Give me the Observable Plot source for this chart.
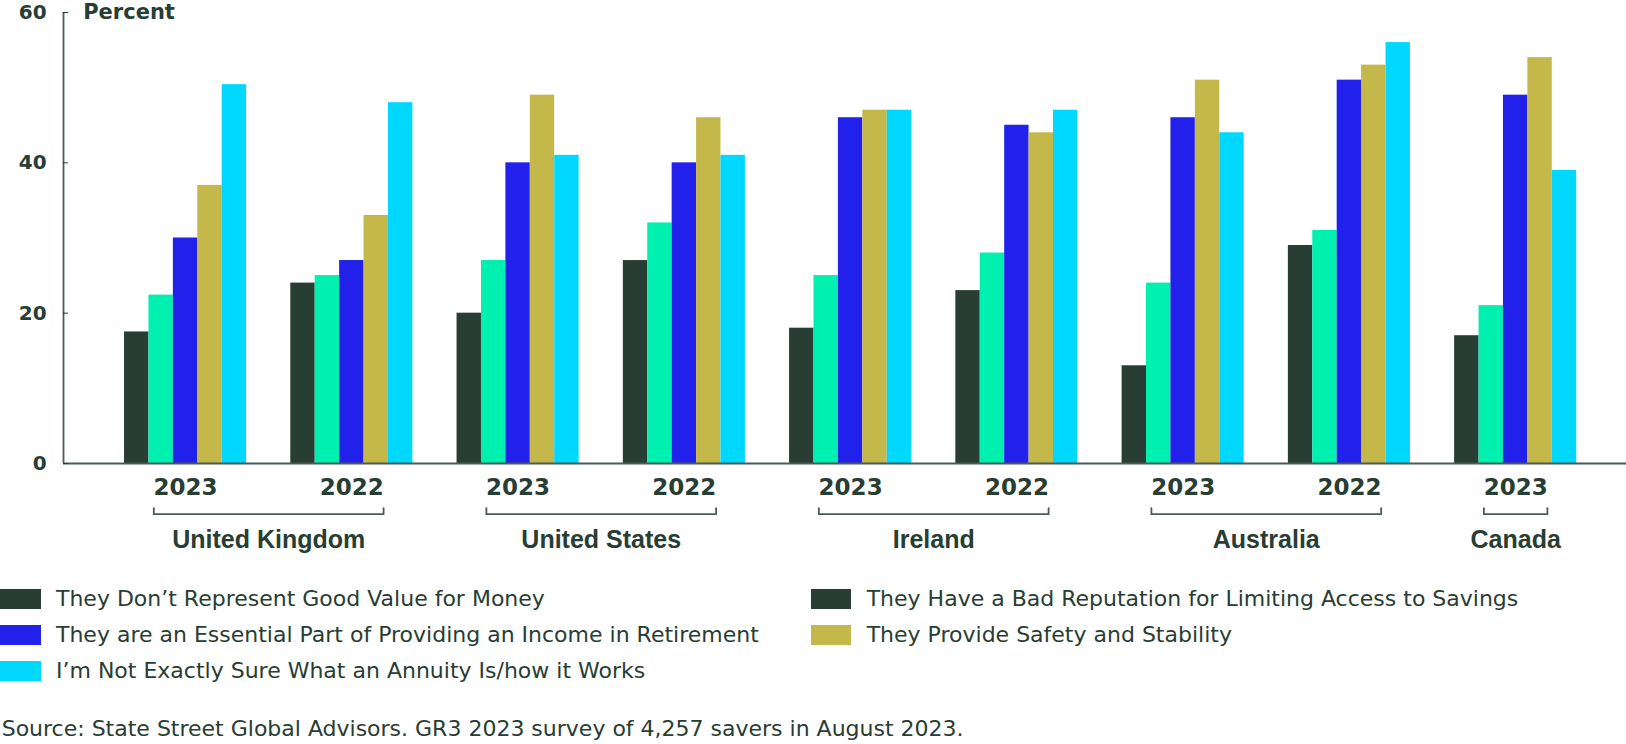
<!DOCTYPE html>
<html>
<head>
<meta charset="utf-8">
<script src="https://cdn.jsdelivr.net/npm/d3@7"></script>
<script src="https://cdn.jsdelivr.net/npm/@observablehq/plot@0.6"></script>
<style>
  body { margin: 0; background: #fff; font-family: "DejaVu Sans", sans-serif; color: #283d33; }
  #chart svg { display: block; overflow: visible; }
  .legend { display: grid; grid-template-columns: 810.7px auto; grid-auto-rows: 36px; margin-top: 20.8px; font-size: 22px; }
  .item { display: flex; align-items: center; white-space: nowrap; }
  .sw { width: 40.7px; height: 19.7px; margin-right: 15.3px; flex: none; }
  .source { font-size: 22px; margin-top: 27.5px; padding-left: 1.7px; white-space: nowrap; }
</style>
</head>
<body>
<div id="chart"></div>
<div class="legend" id="legend"></div>
<div class="source" id="source"></div>
<script>
// ---- data ----
const countries = ["United Kingdom", "United Kingdom", "United States", "United States", "Ireland", "Ireland", "Australia", "Australia", "Canada"];
const years = ["2023", "2022", "2023", "2022", "2023", "2022", "2023", "2022", "2023"];
const seriesNames = [
  "They Don\u2019t Represent Good Value for Money",
  "They Have a Bad Reputation for Limiting Access to Savings",
  "They are an Essential Part of Providing an Income in Retirement",
  "They Provide Safety and Stability",
  "I\u2019m Not Exactly Sure What an Annuity Is/how it Works"
];
const goodValue     = [17.5, 24, 20, 27, 18, 23, 13, 29, 17];
const badReputation = [22.4, 25, 27, 32, 25, 28, 24, 31, 21];
const essential     = [30, 27, 40, 40, 46, 45, 46, 51, 49];
const safety        = [37, 33, 49, 46, 47, 44, 51, 53, 54];
const notSure       = [50.4, 48, 41, 41, 47, 47, 44, 56, 39];
const seriesColors   = ["#283d33", "#00f0b0", "#2121eb", "#c4b84a", "#00d8ff"];
const legendSwatches = ["#283d33", "#283d33", "#2121eb", "#c4b84a", "#00d8ff"];
const yTicks = [0, 20, 40, 60];
const yLabel = "Percent";
const sourceNote = "Source: State Street Global Advisors. GR3 2023 survey of 4,257 savers in August 2023.";

// ---- layout in slot units (one slot = one bar) ----
const seriesValues = [goodValue, badReputation, essential, safety, notSure];
const barsPerGroup = seriesNames.length;
const groupGap = 1.81;
const groupStep = barsPerGroup + groupGap;
const xDomain = [-2.5, 61.52];
const bracketHalf = 1.3;

const rows = [];
years.forEach((yr, g) => {
  seriesNames.forEach((name, s) => {
    rows.push({group: g, slot: g * groupStep + s, series: name, value: seriesValues[s][g]});
  });
});
const groupData = years.map((yr, g) => ({year: yr, center: g * groupStep + barsPerGroup / 2}));
const countryData = [];
countries.forEach((c, g) => {
  const center = g * groupStep + barsPerGroup / 2;
  const last = countryData[countryData.length - 1];
  if (last && last.country === c) last.last = center;
  else countryData.push({country: c, first: center, last: center});
});
countryData.forEach(d => {
  d.center = (d.first + d.last) / 2;
  d.x1 = d.first - bracketHalf;
  d.x2 = d.last + bracketHalf;
});
const bracketEnds = countryData.flatMap(d => [{x: d.x1}, {x: d.x2}]);

const textColor = "#283d33";
const axisColor = "#4a5c54";
const tickShape = {draw(context, l) { context.moveTo(0, 0); context.lineTo(0, -l); }};

const chart = Plot.plot({
  width: 1626,
  height: 560,
  marginLeft: 63,
  marginRight: 0,
  marginTop: 12,
  marginBottom: 97,
  style: {fontFamily: "DejaVu Sans", color: textColor, background: "transparent", overflow: "visible"},
  x: {type: "linear", domain: xDomain, axis: null},
  y: {domain: [0, 60]},
  color: {domain: seriesNames, range: seriesColors},
  marks: [
    Plot.rectY(rows, {x1: "slot", x2: d => d.slot + 1, y: "value", fill: "series"}),
    Plot.ruleY([0], {stroke: axisColor, strokeWidth: 1.8}),
    Plot.ruleX([xDomain[0]], {stroke: axisColor, strokeWidth: 1.8}),
    Plot.axisY({ticks: yTicks, tickSize: -5, tickPadding: 21.8, label: null, fontSize: 20, fontWeight: "bold", color: textColor}),
    Plot.text([yLabel], {x: () => xDomain[0], y: () => 60, text: d => d, dx: 19.7, textAnchor: "start", lineAnchor: "middle", fontSize: 21, fontWeight: "bold", fill: textColor}),
    Plot.text(groupData, {x: "center", frameAnchor: "bottom", text: "year", dy: 24.6, lineAnchor: "middle", fontSize: 23, fontWeight: "bold", fill: textColor}),
    Plot.ruleY(countryData, {x1: "x1", x2: "x2", y: () => 0, dy: 50.7, stroke: axisColor, strokeWidth: 1.8}),
    Plot.vector(bracketEnds, {x: "x", frameAnchor: "bottom", length: 6, rotate: 0, anchor: "start", dy: 50.7, shape: tickShape, stroke: axisColor, strokeWidth: 1.8}),
    Plot.text(countryData, {x: "center", frameAnchor: "bottom", text: "country", dy: 76, lineAnchor: "middle", fontFamily: "Liberation Sans", fontSize: 25, fontWeight: "bold", fill: textColor})
  ]
});
document.getElementById("chart").appendChild(chart);

// ---- legend ----
const legend = document.getElementById("legend");
seriesNames.forEach((name, i) => {
  const item = document.createElement("div");
  item.className = "item";
  const sw = document.createElement("span");
  sw.className = "sw";
  sw.style.background = legendSwatches[i];
  const label = document.createElement("span");
  label.textContent = name;
  item.appendChild(sw);
  item.appendChild(label);
  legend.appendChild(item);
});
document.getElementById("source").textContent = sourceNote;
</script>
</body>
</html>
